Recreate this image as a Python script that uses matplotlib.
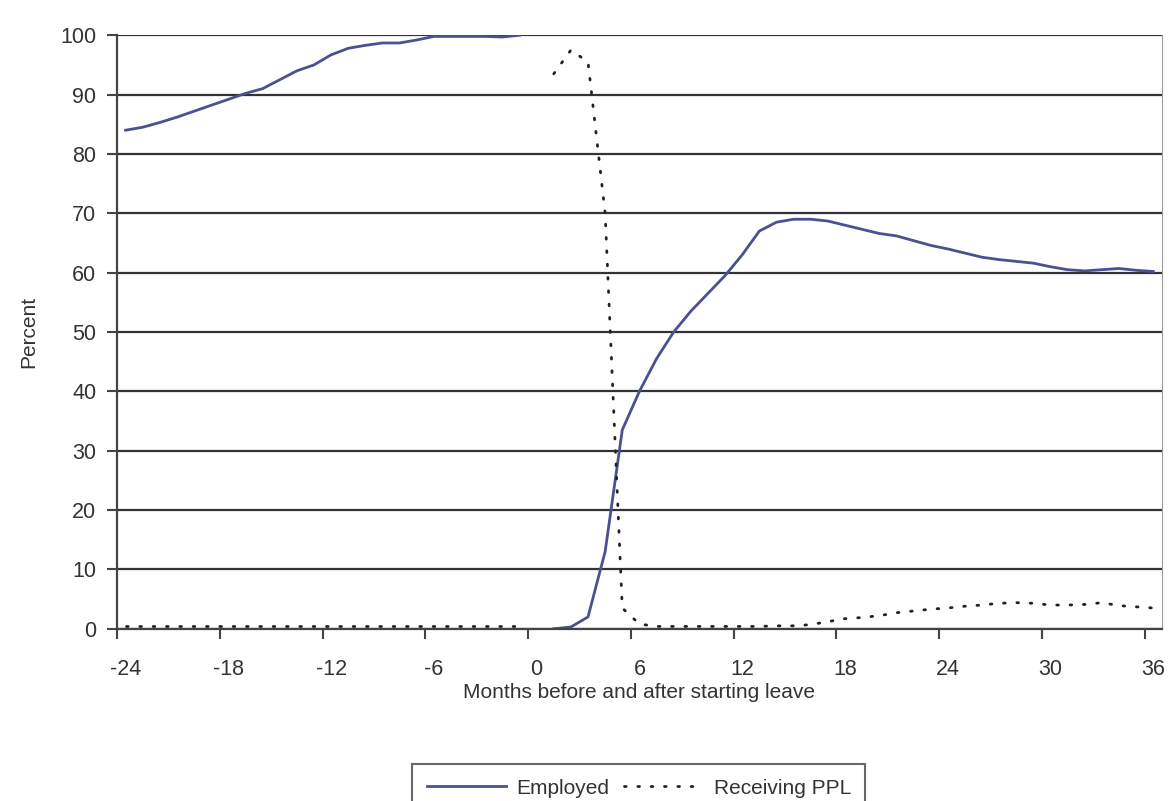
import matplotlib.pyplot as plt
import numpy as np

plt.rcParams['font.family'] = ['Liberation Sans', 'DejaVu Sans']

# months before leave (-24..-1) and after (1..36)
pre_months = np.arange(-24, 0)
post_months = np.arange(1, 37)

employed_pre = [84, 84.5, 85.3, 86.2, 87.2, 88.2, 89.2, 90.2, 91.0, 92.5, 94.0, 95.0,
                96.7, 97.8, 98.3, 98.7, 98.7, 99.2, 99.8, 99.8, 99.8, 99.8, 99.7, 100]
employed_post = [0, 0.3, 2, 13, 33.5, 40, 45.5, 50, 53.5, 56.5, 59.5, 63, 67, 68.5, 69, 69,
                 68.7, 68, 67.3, 66.6, 66.2, 65.4, 64.6, 64, 63.3, 62.6, 62.2, 61.9, 61.6,
                 61, 60.5, 60.3, 60.5, 60.7, 60.4, 60.2]

ppl_pre = [0.5] * 24
ppl_post = [93.5, 97.5, 95.5, 70, 3.5, 0.8, 0.4, 0.4, 0.4, 0.4, 0.4, 0.4, 0.4, 0.5, 0.5,
            0.7, 1.2, 1.7, 1.9, 2.2, 2.7, 3.0, 3.3, 3.5, 3.8, 4.0, 4.3, 4.4, 4.3, 4.0,
            4.0, 4.1, 4.4, 3.9, 3.7, 3.5]

tick_months = np.arange(-24, 37, 6)

fig = plt.figure(figsize=(11.7, 8.01), dpi=100)
ax = fig.add_axes([0.1, 0.215, 0.893, 0.741])

blue = '#4b5190'
dots = (0, (0.6, 4.2))
# categories sit in the middle of each month slot (+0.5)
ax.plot(pre_months + 0.5, employed_pre, color=blue, lw=2, label='Employed')
ax.plot(post_months + 0.5, employed_post, color=blue, lw=2)
ax.plot(pre_months + 0.5, ppl_pre, color='#222222', lw=2, ls=dots,
        dash_capstyle='round', label='Receiving PPL')
ax.plot(post_months + 0.5, ppl_post, color='#222222', lw=2, ls=dots,
        dash_capstyle='round')

ax.set_xlim(-24, 37)
ax.set_ylim(0, 100)
ax.set_yticks(np.arange(0, 101, 10))
ax.yaxis.grid(True, color='#333333', lw=1.6)
ax.set_axisbelow(True)

ax.set_xticks(tick_months)
ax.set_xticklabels([])
ax.set_xticks(tick_months + 0.5, minor=True)
ax.set_xticklabels([str(m) for m in tick_months], minor=True)
ax.tick_params(axis='x', which='minor', length=0, pad=22, labelsize=15.5, labelcolor='#333333')
ax.tick_params(axis='x', which='major', length=7, width=1.5, color='#444444')
ax.tick_params(axis='y', length=7, width=1.5, color='#444444', labelsize=15.5,
               labelcolor='#333333', pad=8)

for s in ['left', 'bottom']:
    ax.spines[s].set_color('#444444')
    ax.spines[s].set_linewidth(1.6)
ax.spines['right'].set_color('#999999')
ax.spines['top'].set_visible(False)

ax.set_ylabel('Percent', fontsize=15, color='#333333', labelpad=16)
ax.set_xlabel('Months before and after starting leave', fontsize=15, color='#333333',
              labelpad=2)

leg = fig.legend(loc='upper center', bbox_to_anchor=(0.546, 0.059), ncol=2,
                 fontsize=15, frameon=True, fancybox=False, handlelength=3.8,
                 columnspacing=0.7, handletextpad=0.5, borderpad=0.7)
leg.get_frame().set_edgecolor('#444444')
leg.get_frame().set_linewidth(1.5)
for t in leg.get_texts():
    t.set_color('#333333')

fig.savefig('out.png', dpi=100)
